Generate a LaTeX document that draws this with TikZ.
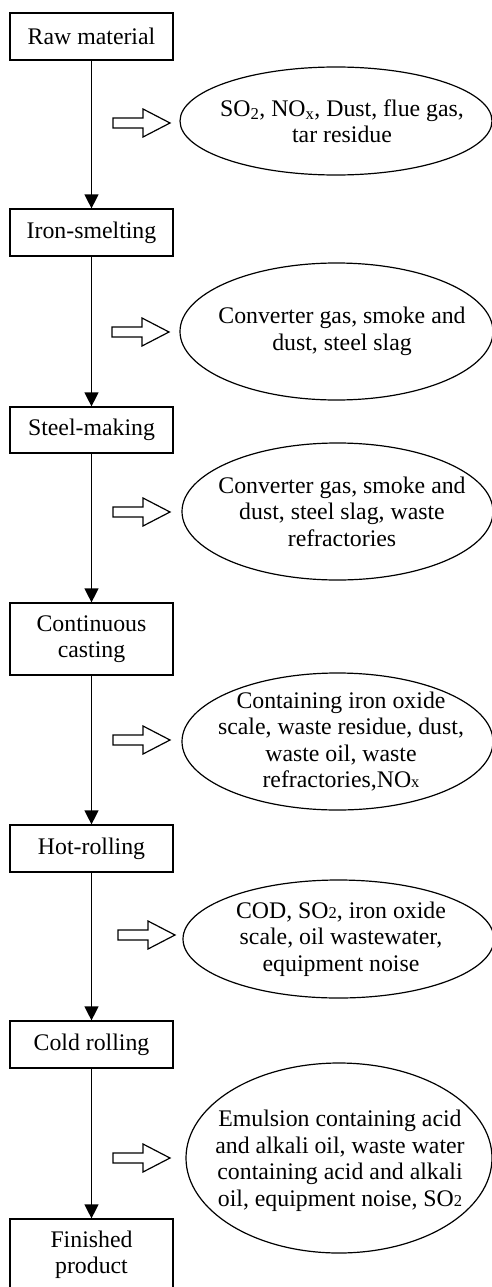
\documentclass[tikz,border=0pt]{standalone}
\usepackage{fontspec}
\setmainfont{Liberation Serif}
\usetikzlibrary{arrows.meta,shapes.geometric}
\newcommand{\smallsub}[1]{{\fontsize{16.5}{16.5}\selectfont #1}}
\begin{document}
\begin{tikzpicture}[x=1pt,y=-1pt,
  every node/.style={font=\fontsize{23.8}{26.5}\selectfont},
  stepbox/.style={draw, line width=1.2pt, minimum width=163pt, inner sep=0pt, align=center},
  outell/.style={draw, ellipse, line width=1.2pt, inner sep=0pt},
  outtext/.style={inner sep=0pt, align=center},
  flow/.style={line width=1.2pt, -{Triangle[length=14pt,width=14pt]}},
  hollow/.style={draw, line width=1.2pt, line join=miter}
]
\useasboundingbox (0,0) rectangle (492,1287);

% process boxes
\node[stepbox, minimum height=47pt] (raw)   at (91.5,36.5)  {Raw material};
\node[stepbox, minimum height=47pt] (iron)  at (91.5,232.5) {Iron-smelting};
\node[stepbox, minimum height=46pt] (steel) at (91.5,430)   {Steel-making};
\node[stepbox, minimum height=72pt] (cont)  at (91.5,639)   {Continuous\\casting};
\node[stepbox, minimum height=47pt] (hot)   at (91.5,848.5) {Hot-rolling};
\node[stepbox, minimum height=47pt] (cold)  at (91.5,1044.5){Cold rolling};
\node[stepbox, minimum height=72pt] (fin)   at (91.5,1255)  {Finished\\product};

% flow arrows
\draw[flow] (raw) -- (iron);
\draw[flow] (iron) -- (steel);
\draw[flow] (steel) -- (cont);
\draw[flow] (cont) -- (hot);
\draw[flow] (hot) -- (cold);
\draw[flow] (cold) -- (fin);

% output ellipses
\node[outell, minimum width=312pt, minimum height=108pt] (e1) at (336,121) {};
\node[outtext] (t1) at (342,121) {SO\textsubscript{2}, NO\textsubscript{x}, Dust, flue gas,\\tar residue};

\node[outell, minimum width=313pt, minimum height=137pt] (e2) at (336.5,331.5) {};
\node[outtext] (t2) at (342,331.5) {Converter gas, smoke and\\dust, steel slag};

\node[outell, minimum width=311pt, minimum height=137pt] (e3) at (337.5,511.5) {};
\node[outtext] (t3) at (342,511.5) {Converter gas, smoke and\\dust, steel slag, waste\\refractories};

\node[outell, minimum width=311pt, minimum height=137pt] (e4) at (337.5,741.5) {};
\node[outtext] (t4) at (341,741.5) {Containing iron oxide\\scale, waste residue, dust,\\waste oil, waste\\refractories,NO\smallsub{x}};

\node[outell, minimum width=311pt, minimum height=118pt] (e5) at (338.5,939) {};
\node[outtext] (t5) at (341,939) {COD, SO\smallsub{2}, iron oxide\\scale, oil wastewater,\\equipment noise};

\node[outell, minimum width=306pt, minimum height=190pt] (e6) at (339,1158) {};
\node[outtext] (t6) at (340,1161) {Emulsion containing acid\\and alkali oil, waste water\\containing acid and alkali\\oil, equipment noise, SO\smallsub{2}};

% hollow arrows
\newcommand{\hollowarrow}[2]{%
  \draw[hollow] (#1,#2-5) -- ++(30,0) -- ++(0,-9) -- (#1+57,#2) -- (#1+30,#2+14) -- ++(0,-9) -- (#1,#2+5) -- cycle;}
\hollowarrow{113}{123}
\hollowarrow{112}{332}
\hollowarrow{113}{512}
\hollowarrow{113}{740}
\hollowarrow{118}{935}
\hollowarrow{113}{1158}
\end{tikzpicture}
\end{document}
